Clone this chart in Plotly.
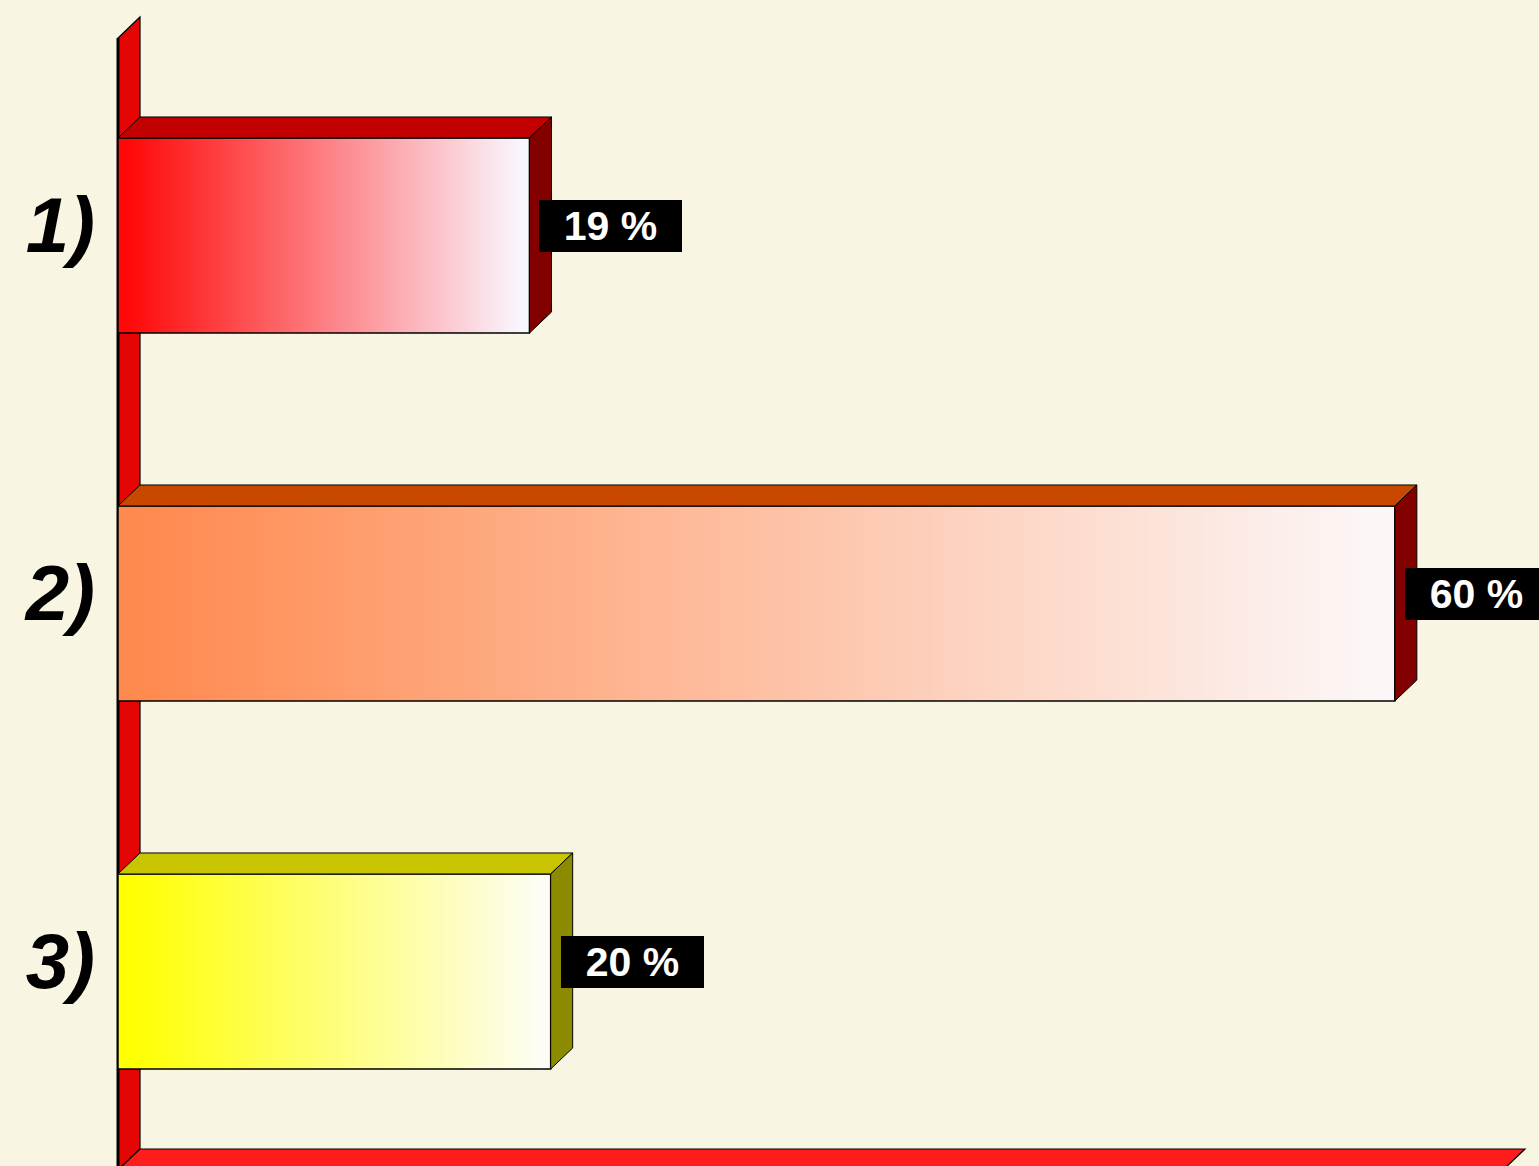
import plotly.graph_objects as go

# ---- data ----
categories = ["1)", "2)", "3)"]
values = [19.4, 60.2, 20.4]
value_labels = ["19 %", "60 %", "20 %"]

# ---- styles ----
front_colors = ["#FF0808", "#FF8A50", "#FFFF00"]
end_colors = ["#FAF6FE", "#FCF6F6", "#FDFDF6"]
top_colors = ["#C20000", "#C84800", "#C8C400"]
side_colors = ["#820000", "#820000", "#8C8A00"]
BG = "#F8F6E2"

W, H = 1539, 1166
ML = 100
PX_X = 21.21                 # pixels per x unit
X0 = -18 / PX_X
XMAX = X0 + (W - ML) / PX_X
PX_Y = 368.0
Y_TOP = -235.5 / PX_Y
Y_BOT = Y_TOP + H / PX_Y
DX = 22 / PX_X               # depth offset (x)
DY = 21 / PX_Y               # depth offset (y)
BW = 0.53                    # bar thickness
XE = 65.3                    # floor length
NGRAD = 24                   # gradient resolution

ypos = list(range(len(categories)))

fig = go.Figure()

# front faces: gradient fill
for i, v in enumerate(values):
    y = ypos[i]
    edges = [v * k / NGRAD for k in range(NGRAD + 1)]
    row = [k / (NGRAD - 1) for k in range(NGRAD)]
    fig.add_trace(go.Heatmap(
        x=edges,
        y=[y - BW / 2, y, y + BW / 2],
        z=[row, row],
        zmin=0, zmax=1, zsmooth="best",
        colorscale=[[0, front_colors[i]], [1, end_colors[i]]],
        showscale=False, hoverinfo="skip",
    ))

# front face outlines
fig.add_trace(go.Bar(
    x=values, y=ypos, orientation="h", width=BW, base=0,
    marker=dict(color="rgba(0,0,0,0)", line=dict(color="black", width=1.5)),
    hoverinfo="skip", showlegend=False,
))

# top and side faces
for i, v in enumerate(values):
    t = ypos[i] - BW / 2
    b = ypos[i] + BW / 2
    fig.add_trace(go.Scatter(
        x=[0, DX, v + DX, v, 0], y=[t, t - DY, t - DY, t, t],
        mode="lines", fill="toself", fillcolor=top_colors[i],
        line=dict(color="black", width=1), hoverinfo="skip", showlegend=False,
    ))
    fig.add_trace(go.Scatter(
        x=[v, v + DX, v + DX, v, v], y=[t, t - DY, b - DY, b, t],
        mode="lines", fill="toself", fillcolor=side_colors[i],
        line=dict(color="black", width=1), hoverinfo="skip", showlegend=False,
    ))

# wall and floor
wall_top = Y_TOP + 38 / PX_Y
floor_top = Y_TOP + 1149 / PX_Y
shapes = [
    dict(type="path", xref="x", yref="y", layer="below",
         path=f"M 0,{floor_top + DY} L 0,{wall_top} L {DX},{wall_top - DY} L {DX},{floor_top} Z",
         fillcolor="#E60505", line=dict(color="black", width=1.2)),
    dict(type="path", xref="x", yref="y", layer="below",
         path=f"M 0,{floor_top + DY} L {DX},{floor_top} L {XE + DX},{floor_top} L {XE},{floor_top + DY} Z",
         fillcolor="#FF1C1C", line=dict(color="black", width=1.2)),
    dict(type="line", xref="x", yref="y", layer="below",
         x0=0, x1=0, y0=floor_top + DY, y1=wall_top,
         line=dict(color="black", width=3)),
]

annotations = []
for i, v in enumerate(values):
    annotations.append(dict(
        x=v, y=ypos[i], xref="x", yref="y", xanchor="left", yanchor="middle",
        xshift=10, yshift=10, text=value_labels[i], showarrow=False,
        bgcolor="black", borderpad=0, borderwidth=0, width=143, height=52,
        align="center", valign="middle",
        font=dict(family="Liberation Sans, Arial", size=41, color="white", weight="bold"),
    ))

fig.update_layout(
    width=W, height=H,
    margin=dict(l=ML, r=0, t=0, b=0),
    paper_bgcolor=BG, plot_bgcolor=BG,
    showlegend=False,
    shapes=shapes, annotations=annotations,
    xaxis=dict(range=[X0, XMAX], showgrid=False, zeroline=False,
               showticklabels=False, showline=False, fixedrange=True),
    yaxis=dict(range=[Y_BOT, Y_TOP], showgrid=False, zeroline=False,
               showline=False, ticks="",
               tickvals=[y - 0.03 for y in ypos], ticktext=categories,
               ticklabelstandoff=4,
               tickfont=dict(family="Liberation Sans, Arial", size=78,
                             color="black", weight="bold", style="italic"),
               fixedrange=True),
)

fig.write_html(
    "out.html",
    config={"displayModeBar": False},
    post_script="document.body.style.margin='0px';document.body.style.background='" + BG + "';",
)
